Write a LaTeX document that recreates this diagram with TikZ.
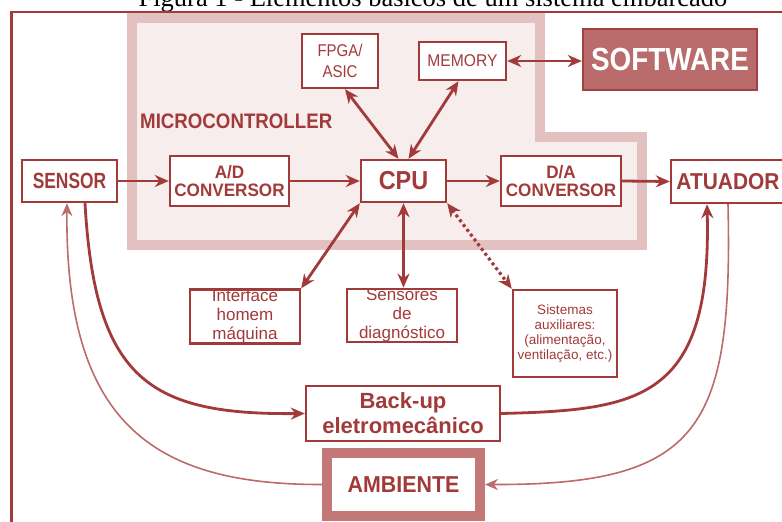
\documentclass[tikz,border=0pt]{standalone}
\usepackage{fontspec}
\usepackage{graphicx}
\setmainfont{Liberation Sans}
\newfontfamily\capfont{Liberation Serif}
\usetikzlibrary{arrows.meta}

\definecolor{dred}{HTML}{A23A3A}
\definecolor{lred}{HTML}{BD6A6A}
\definecolor{pinkband}{HTML}{E4C1C1}
\definecolor{pinkfill}{HTML}{F7EDED}
\definecolor{softfill}{HTML}{BA6B6B}
\definecolor{softline}{HTML}{A04242}
\definecolor{ambband}{HTML}{C47777}

% horizontally condensed text
\newcommand{\cnd}[2]{\scalebox{#1}[1]{#2}}

\begin{document}
\begin{tikzpicture}[x=1pt,y=-1pt,
  box/.style={draw=dred, line width=2.4pt, fill=white, text=dred, inner sep=0pt, align=center},
  conn/.style={draw=dred, line width=2.8pt, -{Stealth[length=14pt,width=12pt]}},
  biconn/.style={draw=dred, line width=2.8pt, {Stealth[length=14pt,width=12pt]}-{Stealth[length=14pt,width=12pt]}},
  lconn/.style={draw=lred, line width=1.6pt, -{Stealth[length=13pt,width=11pt]}},
  dotline/.style={line width=3.2pt, dash pattern=on 3pt off 3pt}]
\useasboundingbox (0,0) rectangle (782,522);

% caption above the frame
\node[anchor=base, font=\capfont\fontsize{26.5}{26.5}\selectfont] (title) at (433,6.5)
  {Figura 1 - Elementos básicos de um sistema embarcado};

% microcontroller area
\draw[pinkband, line width=10pt, fill=pinkfill, line join=miter]
  (132,17.5) -- (540,17.5) -- (540,137) -- (642,137) -- (642,245) -- (132,245) -- cycle;

% outer frame
\draw[dred, line width=2.2pt] (11.5,540) -- (11.5,12) -- (800,12);

\node[text=dred, font=\bfseries\fontsize{21}{21}\selectfont, anchor=west, inner sep=0pt]
  (mc) at (140,121) {\cnd{.89}{MICROCONTROLLER}};

% blocks
\node[box, minimum width=76pt, minimum height=54pt, font=\fontsize{17}{21}\selectfont]
  (fpga) at (340,61) {\cnd{.88}{FPGA/}\\\cnd{.88}{ASIC}};
\node[box, minimum width=87pt, minimum height=38pt, font=\fontsize{17}{19}\selectfont]
  (mem) at (462.5,61) {\cnd{.92}{MEMORY}};
\node[box, draw=softline, fill=softfill, text=white, minimum width=174pt, minimum height=61pt,
  font=\bfseries\fontsize{32}{32}\selectfont]
  (soft) at (670,59.5) {\cnd{.87}{SOFTWARE}};

\node[box, minimum width=95pt, minimum height=42pt, font=\bfseries\fontsize{22}{22}\selectfont]
  (sensor) at (69.5,181) {\cnd{.79}{SENSOR}};
\node[box, minimum width=119pt, minimum height=50pt, font=\bfseries\fontsize{18}{18}\selectfont]
  (ad) at (229.5,181) {\cnd{.95}{A/D}\\\cnd{.95}{CONVERSOR}};
\node[box, minimum width=85pt, minimum height=42pt, font=\bfseries\fontsize{26}{26}\selectfont]
  (cpu) at (403.5,181) {\cnd{.9}{CPU}};
\node[box, minimum width=120pt, minimum height=50pt, font=\bfseries\fontsize{18}{18}\selectfont]
  (da) at (561,181) {\cnd{.95}{D/A}\\\cnd{.95}{CONVERSOR}};
\node[box, minimum width=114pt, minimum height=43pt, font=\bfseries\fontsize{23}{23}\selectfont]
  (atu) at (728,181.5) {\cnd{.91}{ATUADOR}};

\node[box, minimum width=110pt, minimum height=53pt, font=\fontsize{17}{19}\selectfont]
  (ihm) at (245,316.5) {Interface\\homem\\máquina};
\node[box, minimum width=110pt, minimum height=53pt, font=\fontsize{17}{19}\selectfont]
  (diag) at (402,315.5) {Sensores\\de\\diagnóstico};
\node[box, minimum width=104pt, minimum height=87pt, font=\fontsize{13.5}{15}\selectfont]
  (aux) at (565,333.5) {Sistemas\\auxiliares:\\(alimentação,\\ventilação, etc.)};

\node[box, minimum width=194pt, minimum height=55pt, font=\bfseries\fontsize{22}{25}\selectfont]
  (backup) at (403,413.5) {Back-up\\eletromecânico};
\node[draw=ambband, line width=10pt, fill=white, text=dred, inner sep=0pt,
  minimum width=153pt, minimum height=63pt, font=\bfseries\fontsize{23}{23}\selectfont]
  (amb) at (403.5,484.5) {\cnd{.93}{AMBIENTE}};

% signal chain
\draw[conn] (sensor.east) -- (ad.west);
\draw[conn] (ad.east) -- (cpu.west);
\draw[conn] (cpu.east) -- (da.west);
\draw[conn] (da.east) -- (atu.west);

% links around the CPU
\draw[biconn] (mem.east) -- (mem.east -| soft.west);
\draw[biconn] ([xshift=-5pt]cpu.north) -- ([xshift=5pt]fpga.south);
\draw[biconn] ([xshift=5pt]cpu.north) -- ([xshift=-4pt]mem.south);
\draw[biconn] (cpu.south west) -- (ihm.north east);
\draw[biconn] (cpu.south) -- (cpu.south |- diag.north);
\draw[biconn, dotline] (cpu.south east) -- (aux.north west);

% back-up path
\draw[conn] ([xshift=15.5pt]sensor.south) .. controls (95,380) and (150,415) .. (backup.west);
\draw[conn] (backup.east) .. controls (640,410) and (712,400) .. ([xshift=-21pt]atu.south);

% environment loop
\draw[lconn] (atu.south) .. controls (733,430) and (700,485) .. (amb.east);
\draw[lconn] (amb.west) .. controls (150,485) and (65,420) .. ([xshift=-2.5pt]sensor.south);
\end{tikzpicture}
\end{document}
